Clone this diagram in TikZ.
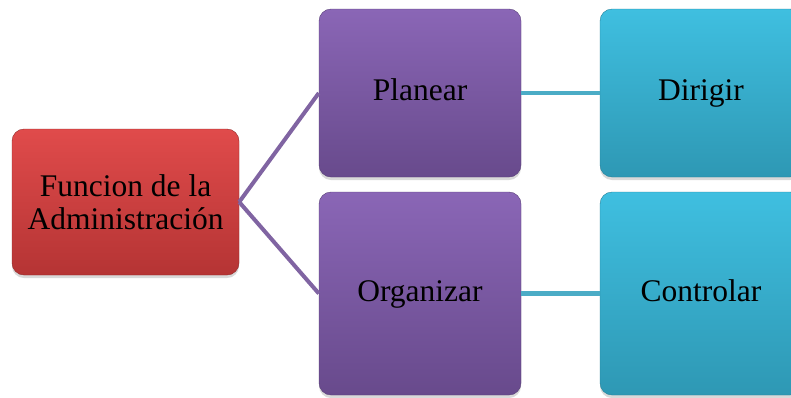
\documentclass[tikz,border=0pt]{standalone}
\usepackage{fontspec}
\setmainfont{Liberation Serif}
\usepackage{xcolor}
\usepackage{tikz}
\usetikzlibrary{positioning,shadows}

\definecolor{redtop}{HTML}{E04B4B}
\definecolor{redbot}{HTML}{B53434}
\definecolor{purptop}{HTML}{8A66B6}
\definecolor{purpbot}{HTML}{684A8C}
\definecolor{cyantop}{HTML}{3FBFE0}
\definecolor{cyanbot}{HTML}{2E98B4}
\definecolor{purplink}{HTML}{8064A2}
\definecolor{cyanlink}{HTML}{4BACC6}

\begin{document}
\begin{tikzpicture}[x=1pt, y=-1pt,
    box/.style={rectangle, rounded corners=12pt, align=center, inner sep=2pt,
      font=\fontsize{31.5}{33}\selectfont,
      drop shadow={opacity=0.3, shadow xshift=0pt, shadow yshift=-3pt}},
    redbox/.style={box, top color=redtop, bottom color=redbot, draw=redbot!80!black, line width=0.4pt,
      minimum width=227pt, minimum height=146pt},
    purpbox/.style={box, top color=purptop, bottom color=purpbot, draw=purpbot!85!black, line width=0.4pt,
      minimum width=202pt, text height=22pt, text depth=7pt},
    cyanbox/.style={box, top color=cyantop, bottom color=cyanbot, draw=cyanbot!85!black, line width=0.4pt,
      minimum width=202pt, text height=22pt, text depth=7pt},
    plink/.style={draw=purplink, line width=4pt},
    clink/.style={draw=cyanlink, line width=4.5pt},
  ]
    \useasboundingbox (0,0) rectangle (791,397);

    \node[redbox] (func) at (125.5,202) {Funcion de la\\Administración};
    \node[purpbox, minimum height=168pt] (plan) at (420,93) {Planear};
    \node[purpbox, minimum height=203pt] (org) at (420,293.5) {Organizar};
    \node[cyanbox, minimum height=168pt] (dir) at (701,93) {Dirigir};
    \node[cyanbox, minimum height=203pt] (ctrl) at (701,293.5) {Controlar};

    % Links
    \draw[plink] (func.east) -- (plan.west);
    \draw[plink] (func.east) -- (org.west);
    \draw[clink] (plan.east) -- (dir.west);
    \draw[clink] (org.east) -- (ctrl.west);

  \end{tikzpicture}
\end{document}
